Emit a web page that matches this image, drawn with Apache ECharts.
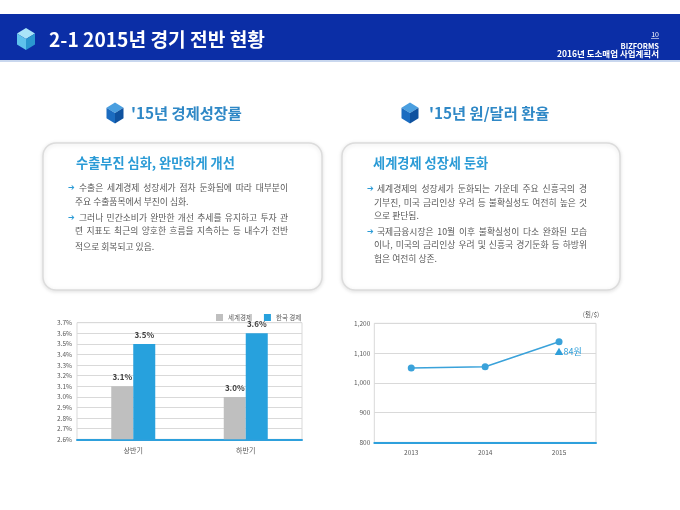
<!DOCTYPE html>
<html><head><meta charset="utf-8">
<script src="https://cdn.jsdelivr.net/npm/echarts@6/dist/echarts.min.js"></script>
<style>html,body{margin:0;padding:0;background:#fff}#c{width:680px;height:510px}</style>
</head><body><div id="c"></div>
<script>
// ---- data ----
var barCategories = ['상반기', '하반기'];
var worldGrowth = [3.1, 3.0];
var koreaGrowth = [3.5, 3.6];
var barSeriesNames = ['세계경제', '한국 경제'];
var years = ['2013', '2014', '2015'];
var wonDollar = [1050, 1054, 1138];
var rateNote = '▲84원';

var FONT = '"Noto Sans CJK KR", "Noto Sans", sans-serif';
var chart = echarts.init(document.getElementById('c'));
var mctx = document.createElement('canvas').getContext('2d');

function cube(cx, cy, w, h, cTop, cLeft, cRight) {
  var T = [cx, cy - h], UR = [cx + w, cy - h / 2], LR = [cx + w, cy + h / 2],
      B = [cx, cy + h], LL = [cx - w, cy + h / 2], UL = [cx - w, cy - h / 2], C = [cx, cy];
  return [
    {type: 'polygon', shape: {points: [T, UR, C, UL]}, style: {fill: cTop}},
    {type: 'polygon', shape: {points: [UL, C, B, LL]}, style: {fill: cLeft}},
    {type: 'polygon', shape: {points: [C, UR, LR, B]}, style: {fill: cRight}}
  ];
}
function txt(x, y, s, size, color, weight, align) {
  return {type: 'text', style: {x: x, y: y, text: s, fill: color, align: align || 'left', verticalAlign: 'middle',
    font: (weight || 'normal') + ' ' + size + 'px ' + FONT}};
}
// justified line: words spread between x0 and x1
function jline(x0, x1, y, s, size, color) {
  var font = 'normal ' + size + 'px ' + FONT;
  mctx.font = font;
  var words = s.split(' ');
  var widths = words.map(function (w) { return mctx.measureText(w).width; });
  var total = widths.reduce(function (a, b) { return a + b; }, 0);
  var gap = (x1 - x0 - total) / (words.length - 1);
  var out = [], x = x0;
  words.forEach(function (w, i) {
    out.push({type: 'text', style: {x: x, y: y, text: w, fill: color, align: 'left', verticalAlign: 'middle', font: font}});
    x += widths[i] + gap;
  });
  return out;
}
function arrow(x, y) {
  return {type: 'text', style: {x: x, y: y, text: '➔', fill: '#2b9bd6', align: 'left', verticalAlign: 'middle',
    font: 'bold 8px "DejaVu Sans", sans-serif'}};
}

var g = [];
// header
g.push({type: 'rect', shape: {x: 0, y: 14, width: 680, height: 46}, style: {fill: '#0b2ea6'}});
g.push({type: 'rect', shape: {x: 0, y: 60, width: 680, height: 2}, style: {fill: '#c9d7ee'}});
g = g.concat(cube(26, 39, 9, 11, '#a9e4f8', '#5ec2ec', '#2a97d0'));
g.push(txt(49, 40, '2-1 2015년 경기 전반 현황', 19.2, '#ffffff', 'bold'));
g.push(txt(659, 34.5, '10', 7, '#ffffff', 'normal', 'right'));
g.push({type: 'line', shape: {x1: 651, y1: 38.5, x2: 659, y2: 38.5}, style: {stroke: '#ffffff', lineWidth: 0.6}});
g.push(txt(659, 46, 'BIZFORMS', 7.5, '#ffffff', 'bold', 'right'));
g.push(txt(659, 53.5, '2016년 도소매업 사업계획서', 8.5, '#ffffff', 'bold', 'right'));

// section titles
g = g.concat(cube(115, 113, 8.5, 10.5, '#4a9fe0', '#1b6cc0', '#0f529f'));
g.push(txt(131, 113, "'15년 경제성장률", 15.3, '#2f88c6', 'bold'));
g = g.concat(cube(410, 113, 8.5, 10.5, '#4a9fe0', '#1b6cc0', '#0f529f'));
g.push(txt(429, 113, "'15년 원/달러 환율", 15.3, '#2f88c6', 'bold'));

// boxes
g.push({type: 'rect', shape: {x: 43, y: 143, width: 279, height: 147, r: 13},
  style: {fill: '#fff', stroke: '#dcdcdc', lineWidth: 1.5, shadowBlur: 4, shadowColor: 'rgba(0,0,0,0.12)', shadowOffsetY: 1}});
g.push({type: 'rect', shape: {x: 342, y: 143, width: 278, height: 147, r: 13},
  style: {fill: '#fff', stroke: '#dcdcdc', lineWidth: 1.5, shadowBlur: 4, shadowColor: 'rgba(0,0,0,0.12)', shadowOffsetY: 1}});

g.push(txt(76, 163, '수출부진 심화, 완만하게 개선', 13.2, '#2b9bd6', 'bold'));
g.push(txt(373, 163, '세계경제 성장세 둔화', 13.2, '#2b9bd6', 'bold'));

var TC = '#595959', TS = 8.8;
g.push(arrow(68, 188));
g = g.concat(jline(79, 288, 188, '수출은 세계경제 성장세가 점차 둔화됨에 따라 대부분이', TS, TC));
g.push(txt(75, 201.5, '주요 수출품목에서 부진이 심화.', TS, TC));
g.push(arrow(68, 217.5));
g = g.concat(jline(79, 288, 217.5, '그러나 민간소비가 완만한 개선 추세를 유지하고 투자 관', TS, TC));
g = g.concat(jline(75, 288, 231, '련 지표도 최근의 양호한 흐름을 지속하는 등 내수가 전반', TS, TC));
g.push(txt(75, 246.5, '적으로 회복되고 있음.', TS, TC));

g.push(arrow(367, 189));
g = g.concat(jline(377, 587, 189, '세계경제의 성장세가 둔화되는 가운데 주요 신흥국의 경', TS, TC));
g = g.concat(jline(374, 587, 202.3, '기부진, 미국 금리인상 우려 등 불확실성도 여전히 높은 것', TS, TC));
g.push(txt(374, 215.7, '으로 판단됨.', TS, TC));
g.push(arrow(367, 231.7));
g = g.concat(jline(377, 587, 231.7, '국제금융시장은 10월 이후 불확실성이 다소 완화된 모습', TS, TC));
g = g.concat(jline(374, 587, 245, '이나, 미국의 금리인상 우려 및 신흥국 경기둔화 등 하방위', TS, TC));
g.push(txt(374, 258.3, '험은 여전히 상존.', TS, TC));

g.push(txt(591, 315, '(원/$)', 6.5, '#595959', 'normal', 'center'));

var axisLbl = {fontSize: 6.5, color: '#595959', fontFamily: FONT};

chart.setOption({
  animation: false,
  textStyle: {fontFamily: FONT},
  graphic: g,
  legend: {
    data: barSeriesNames, left: 211, top: 309, itemWidth: 7, itemHeight: 7, itemGap: 12,
    icon: 'rect', textStyle: {fontSize: 6.5, color: '#595959', fontFamily: FONT}
  },
  grid: [
    {left: 77, top: 322.7, width: 225, height: 116.6, show: true, borderColor: '#d9d9d9', borderWidth: 1},
    {left: 374.3, top: 323.3, width: 221.7, height: 119, show: true, borderColor: '#d9d9d9', borderWidth: 1}
  ],
  xAxis: [
    {type: 'category', gridIndex: 0, data: barCategories,
      axisLine: {lineStyle: {color: '#2ea0dc', width: 2}}, axisTick: {show: false},
      axisLabel: {fontSize: 7, color: '#595959', fontFamily: FONT, margin: 8}},
    {type: 'category', gridIndex: 1, data: years, boundaryGap: true,
      axisLine: {lineStyle: {color: '#2ea0dc', width: 2}}, axisTick: {show: false},
      axisLabel: {fontSize: 6.5, color: '#595959', fontFamily: FONT, margin: 7}}
  ],
  yAxis: [
    {type: 'value', gridIndex: 0, min: 2.6, max: 3.7, interval: 0.1,
      axisLine: {show: false}, axisTick: {show: false},
      splitLine: {lineStyle: {color: '#d9d9d9', width: 1}},
      axisLabel: Object.assign({margin: 5, formatter: function (v) { return v.toFixed(1) + '%'; }}, axisLbl)},
    {type: 'value', gridIndex: 1, min: 800, max: 1200, interval: 100,
      axisLine: {show: false}, axisTick: {show: false},
      splitLine: {lineStyle: {color: '#d9d9d9', width: 1}},
      axisLabel: Object.assign({margin: 4, formatter: function (v) { return v.toLocaleString('en-US'); }}, axisLbl)}
  ],
  series: [
    {name: barSeriesNames[0], type: 'bar', xAxisIndex: 0, yAxisIndex: 0, data: worldGrowth,
      barWidth: 22, barGap: '0%', itemStyle: {color: '#bfbfbf'},
      label: {show: true, position: 'top', distance: 5, fontSize: 8, fontWeight: 'bold', color: '#404040',
        formatter: function (p) { return p.value.toFixed(1) + '%'; }}},
    {name: barSeriesNames[1], type: 'bar', xAxisIndex: 0, yAxisIndex: 0, data: koreaGrowth,
      barWidth: 22, barGap: '0%', itemStyle: {color: '#27a1dd'},
      label: {show: true, position: 'top', distance: 5, fontSize: 8, fontWeight: 'bold', color: '#404040',
        formatter: function (p) { return p.value.toFixed(1) + '%'; }}},
    {name: '원/달러', type: 'line', xAxisIndex: 1, yAxisIndex: 1,
      data: wonDollar.map(function (v, i) {
        return i === wonDollar.length - 1 ?
          {value: v, label: {show: true, position: 'bottom', distance: 2, offset: [9, 0], formatter: rateNote,
            fontSize: 9, color: '#2f9fda', fontFamily: FONT}} : v;
      }),
      symbol: 'circle', symbolSize: 7, lineStyle: {color: '#3aa2da', width: 1.5},
      itemStyle: {color: '#3aa2da'}, label: {show: false}}
  ]
});
</script></body></html>
